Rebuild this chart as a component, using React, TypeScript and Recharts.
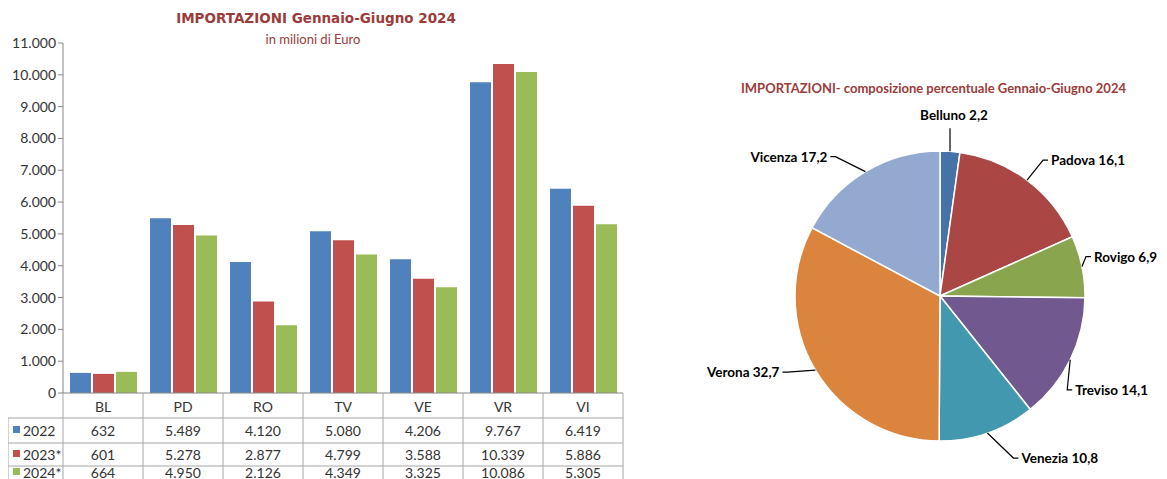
import React from "react"
import { BarChart, Bar, XAxis, YAxis, PieChart, Pie, Cell } from "recharts"

// bar chart data (milioni di Euro)
const provinces = ["BL", "PD", "RO", "TV", "VE", "VR", "VI"]
const years = ["2022", "2023*", "2024*"]
const imports2022 = [632, 5489, 4120, 5080, 4206, 9767, 6419]
const imports2023 = [601, 5278, 2877, 4799, 3588, 10339, 5886]
const imports2024 = [664, 4950, 2126, 4349, 3325, 10086, 5305]
const yTicks = [0, 1000, 2000, 3000, 4000, 5000, 6000, 7000, 8000, 9000, 10000, 11000]

// pie data (% share 2024)
const shareNames = ["Belluno", "Padova", "Rovigo", "Treviso", "Venezia", "Verona", "Vicenza"]
const shareValues = [2.2, 16.1, 6.9, 14.1, 10.8, 32.7, 17.2]

const barColors = ["#4F81BD", "#C0504D", "#9BBB59"]
const pieColors = ["#4572A7", "#AA4643", "#89A54E", "#71588F", "#4198AF", "#DB843D", "#93A9CF"]
const titleColor = "#9B3B3A"
const gridColor = "#A6A6A6"
const font = "Lato, 'Open Sans', sans-serif"

const seriesKeys = ["y2022", "y2023", "y2024"]
const seriesValues = [imports2022, imports2023, imports2024]

const barData = provinces.map((p, i) => ({
  name: p,
  y2022: imports2022[i],
  y2023: imports2023[i],
  y2024: imports2024[i],
}))

const pieData = shareNames.map((n, i) => ({ name: n, value: shareValues[i] }))

const fmt = (n: number) => String(n).replace(/\B(?=(\d{3})+(?!\d))/g, ".")

const BAR_W = 640
const BAR_H = 471
const Y_W = 55
const MARGIN = { top: 35, right: 25, left: 0, bottom: 0 }
const COL = (BAR_W - Y_W - MARGIN.left - MARGIN.right) / provinces.length

// row boundaries of the table under the axis
const rowLines = [25, 50, 73, 96]
const rowText = [37, 61, 79]

function TableTick(props: any) {
  const { x, y, payload } = props
  const i = provinces.indexOf(payload.value)
  const half = COL / 2
  const left = x - half
  const right = x + half
  return (
    <g fontFamily={font} fontSize={14} fill="#333">
      <text x={x} y={y + 13} textAnchor="middle" dominantBaseline="central" fill="#333">
        {payload.value}
      </text>
      {seriesValues.map((vals, r) => (
        <text key={r} x={x} y={y + rowText[r]} textAnchor="middle" dominantBaseline="central" fill="#333">
          {fmt(vals[i])}
        </text>
      ))}
      <line x1={right} y1={y} x2={right} y2={y + rowLines[3]} stroke={gridColor} />
      {rowLines.map((ly) => (
        <line key={ly} x1={left} y1={y + ly} x2={right} y2={y + ly} stroke={gridColor} />
      ))}
      {i === 0 && (
        <g>
          <line x1={left} y1={y} x2={left} y2={y + rowLines[3]} stroke={gridColor} />
          <line x1={left - Y_W} y1={y + rowLines[0]} x2={left - Y_W} y2={y + rowLines[3]} stroke={gridColor} />
          {rowLines.map((ly) => (
            <line key={ly} x1={left - Y_W} y1={y + ly} x2={left} y2={y + ly} stroke={gridColor} />
          ))}
          {years.map((yr, r) => (
            <g key={yr}>
              <rect x={left - Y_W + 5} y={y + rowText[r] - 4} width={7} height={7} fill={barColors[r]} />
              <text x={left - Y_W + 15} y={y + rowText[r]} dominantBaseline="central" fill="#333">
                {yr}
              </text>
            </g>
          ))}
        </g>
      )}
    </g>
  )
}

// per-slice leader line: [dx, dy, side] from the slice edge; side 0 = label above
const labelOffsets = [
  [0, -23, 0],
  [16, -20, 1],
  [4, -10, 1],
  [-3, 30, 1],
  [26, 25, 1],
  [-28, 2, -1],
  [-30, -15, -1],
]

function renderPieLabel(props: any) {
  const { cx, cy, midAngle, outerRadius, index, name, value } = props
  const RAD = Math.PI / 180
  const sx = cx + outerRadius * Math.cos(-midAngle * RAD)
  const sy = cy + outerRadius * Math.sin(-midAngle * RAD)
  const [dx, dy, side] = labelOffsets[index]
  const mx = sx + dx
  const my = sy + dy
  const text = `${name} ${String(value).replace(".", ",")}`
  if (side === 0) {
    return (
      <g>
        <polyline points={`${sx},${sy} ${mx},${my}`} stroke="#000" fill="none" strokeWidth={1.2} />
        <text x={mx + 4} y={my - 8} textAnchor="middle" fontFamily={font} fontWeight={700} fontSize={13.5} fill="#000">
          {text}
        </text>
      </g>
    )
  }
  const ex = mx + side * 5
  return (
    <g>
      <polyline points={`${sx},${sy} ${mx},${my} ${ex},${my}`} stroke="#000" fill="none" strokeWidth={1.2} />
      <text
        x={ex + side * 3}
        y={my}
        textAnchor={side > 0 ? "start" : "end"}
        dominantBaseline="central"
        fontFamily={font}
        fontWeight={700}
        fontSize={13.5}
        fill="#000"
      >
        {text}
      </text>
    </g>
  )
}

export default function App() {
  return (
    <div style={{ position: "relative", width: 1159, height: 471, fontFamily: font, background: "#fff" }}>
      <div
        style={{
          position: "absolute",
          left: 8,
          width: 600,
          top: 1,
          textAlign: "center",
          color: titleColor,
          fontFamily: "'DejaVu Sans', sans-serif",
          fontWeight: 700,
          fontSize: 13.5,
          lineHeight: "18px",
        }}
      >
        IMPORTAZIONI Gennaio-Giugno 2024
      </div>
      <div
        style={{
          position: "absolute",
          left: 5,
          width: 600,
          top: 23,
          textAlign: "center",
          color: titleColor,
          fontSize: 13,
          lineHeight: "16px",
        }}
      >
        in milioni di Euro
      </div>
      <div style={{ position: "absolute", left: 0, top: 0, width: BAR_W, height: BAR_H }}>
        <BarChart width={BAR_W} height={BAR_H} data={barData} margin={MARGIN} barCategoryGap={7} barGap={2}>
          <YAxis
            width={Y_W}
            domain={[0, 11000]}
            ticks={yTicks}
            tickFormatter={fmt}
            interval={0}
            tickSize={5}
            tick={{ fontSize: 14, fill: "#333", fontFamily: font }}
            axisLine={{ stroke: "#868686" }}
            tickLine={{ stroke: "#868686" }}
          />
          <XAxis
            dataKey="name"
            height={86}
            interval={0}
            tickSize={0}
            tickMargin={0}
            tickLine={false}
            axisLine={{ stroke: "#868686" }}
            tick={<TableTick />}
          />
          {seriesKeys.map((k, i) => (
            <Bar key={k} dataKey={k} name={years[i]} fill={barColors[i]} isAnimationActive={false} />
          ))}
        </BarChart>
      </div>
      <div
        style={{
          position: "absolute",
          left: 692,
          width: 467,
          top: 72,
          textAlign: "center",
          color: titleColor,
          fontWeight: 700,
          fontSize: 13,
          lineHeight: "16px",
        }}
      >
        IMPORTAZIONI- composizione percentuale Gennaio-Giugno 2024
      </div>
      <div style={{ position: "absolute", left: 692, top: 0, width: 467, height: 471 }}>
        <PieChart width={467} height={471}>
          <Pie
            data={pieData}
            dataKey="value"
            nameKey="name"
            cx={235}
            cy={283}
            outerRadius={145}
            startAngle={90}
            endAngle={-270}
            stroke="#fff"
            strokeWidth={1.5}
            label={renderPieLabel}
            labelLine={false}
            isAnimationActive={false}
          >
            {pieData.map((d, i) => (
              <Cell key={d.name} fill={pieColors[i]} />
            ))}
          </Pie>
        </PieChart>
      </div>
    </div>
  )
}
